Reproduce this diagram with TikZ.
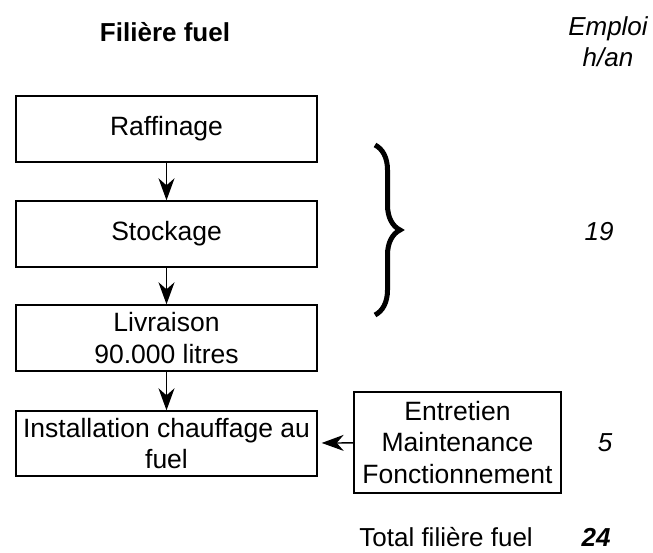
\documentclass[tikz,border=0pt]{standalone}
\usepackage{fontspec}
\setmainfont{Liberation Sans}
\usetikzlibrary{arrows.meta,decorations.pathreplacing}
\begin{document}
\begin{tikzpicture}[x=1pt, y=-1pt,
    box/.style={draw, line width=1.4pt, inner sep=0pt, align=center,
      font=\fontsize{26.5}{31.5}\selectfont},
    flow/.style={-{Stealth[length=22pt, width=16pt, inset=7pt]}, line width=1.3pt},
    plain/.style={inner sep=0pt, font=\fontsize{26}{31}\selectfont},
    num/.style={font=\fontsize{26}{31}\selectfont\itshape}]
  \useasboundingbox (0, 0) rectangle (653, 553);
  \node[font=\fontsize{26}{31}\selectfont\bfseries] (titre) at (165, 32) {Filière fuel};
  \node[num, align=center] (emploi) at (608, 42) {Emploi\\h/an};
  \node[box, minimum width=301, minimum height=66] (raff) at (166.5, 129) {Raffinage};
  \node[box, minimum width=301, minimum height=66] (stock) at (166.5, 234) {Stockage};
  \node[box, minimum width=301, minimum height=66] (livr) at (166.5, 338) {Livraison\\90.000 litres};
  \node[box, minimum width=301, minimum height=65] (inst) at (166.5, 443.5) {Installation chauffage au\\fuel};
  \node[box, minimum width=207, minimum height=101] (entr) at (457.5, 442.5) {Entretien\\Maintenance\\Fonctionnement};
  \draw[flow] (raff) -- (stock);
  \draw[flow] (stock) -- (livr);
  \draw[flow] (livr) -- (inst);
  \draw[flow, shorten >=4pt] (entr) -- (inst);
  % accolade des trois premieres etapes
  \coordinate (haut) at (375, 145);
  \coordinate (bas) at (375, 315);
  \draw[decorate, decoration={brace, amplitude=25pt}, line width=5pt] (haut) -- (bas);
  \node[num] (dixneuf) at (599, 232) {19};
  \node[num] (cinq) at (605, 443) {5};
  \node[plain, anchor=base east] (total) at (533, 546) {Total filière fuel};
  \node[plain, anchor=base, font=\fontsize{26}{31}\selectfont\bfseries\itshape] (vingtquatre) at (596, 546) {24};
\end{tikzpicture}
\end{document}
